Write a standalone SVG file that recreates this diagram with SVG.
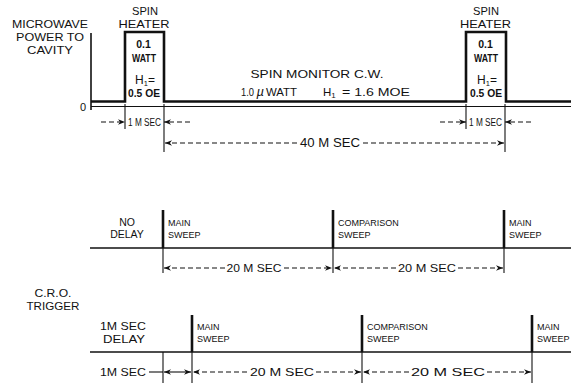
<svg xmlns="http://www.w3.org/2000/svg" width="571" height="385" viewBox="0 0 571 385">
<style>
.t{font-family:"Liberation Sans",Arial,sans-serif;fill:#111}
.c{text-anchor:middle}
.dim{stroke:#111;stroke-width:1.1;stroke-dasharray:5 3;fill:none;marker-end:url(#ah)}
.sol{stroke:#111;stroke-width:1.1;fill:none;marker-end:url(#ah)}
.tick{stroke:#111;stroke-width:1.1}
.bar{stroke:#111;stroke-width:2.6}
.base{stroke:#111;stroke-width:1.6}
.wave{stroke:#111;stroke-width:2.6;fill:none}
</style>
<defs>
<marker id="ah" viewBox="0 0 10 8" refX="10" refY="4" markerWidth="7" markerHeight="5.6" markerUnits="userSpaceOnUse" orient="auto"><path d="M0,0 L10,4 L0,8 L3,4 z" fill="#111"/></marker>
</defs>
<rect width="571" height="385" fill="#fff"/>

<!-- top section -->
<g id="axis">
<line x1="91" y1="33" x2="91" y2="110" class="base"/>
<line x1="91" y1="106.5" x2="571" y2="106.5" stroke="#111" stroke-width="1"/>
<text class="t c" x="83" y="111" font-size="11">0</text>
</g>
<g id="label-microwave" class="t c" font-size="11">
<text x="50" y="28" textLength="76" lengthAdjust="spacingAndGlyphs">MICROWAVE</text>
<text x="50" y="41" textLength="68" lengthAdjust="spacingAndGlyphs">POWER TO</text>
<text x="50" y="54" textLength="46" lengthAdjust="spacingAndGlyphs">CAVITY</text>
</g>
<g id="waveform">
<polyline class="wave" points="91,101.5 125,101.5 125,32 164,32 164,101.5 466,101.5 466,32 506,32 506,101.5 571,101.5"/>
</g>
<g id="pulse1" class="t c">
<text x="145" y="15" font-size="11" textLength="26" lengthAdjust="spacingAndGlyphs">SPIN</text>
<text x="144" y="28" font-size="11" textLength="51" lengthAdjust="spacingAndGlyphs">HEATER</text>
<text x="143.5" y="48" font-size="10.5" font-weight="bold">0.1</text>
<text x="144" y="62" font-size="10.5" font-weight="bold" textLength="24" lengthAdjust="spacingAndGlyphs">WATT</text>
<text x="145" y="84" font-size="12">H<tspan font-size="7.5" dy="2">1</tspan><tspan dy="-2">=</tspan></text>
<text x="144" y="97" font-size="10.5" font-weight="bold" textLength="32" lengthAdjust="spacingAndGlyphs">0.5 OE</text>
</g>
<g id="pulse2" class="t c">
<text x="486" y="15" font-size="11" textLength="26" lengthAdjust="spacingAndGlyphs">SPIN</text>
<text x="485.5" y="28" font-size="11" textLength="51" lengthAdjust="spacingAndGlyphs">HEATER</text>
<text x="485.5" y="48" font-size="10.5" font-weight="bold">0.1</text>
<text x="486" y="62" font-size="10.5" font-weight="bold" textLength="24" lengthAdjust="spacingAndGlyphs">WATT</text>
<text x="487" y="84" font-size="12">H<tspan font-size="7.5" dy="2">1</tspan><tspan dy="-2">=</tspan></text>
<text x="486" y="97" font-size="10.5" font-weight="bold" textLength="32" lengthAdjust="spacingAndGlyphs">0.5 OE</text>
</g>
<g id="monitor" class="t" font-size="11.5">
<text x="317" y="78" class="c" textLength="133" lengthAdjust="spacingAndGlyphs">SPIN MONITOR C.W.</text>
<text x="241" y="96" textLength="13" lengthAdjust="spacingAndGlyphs">1.0</text>
<text x="256.5" y="96" font-style="italic" font-size="13">µ</text>
<text x="266" y="96" textLength="31" lengthAdjust="spacingAndGlyphs">WATT</text>
<text x="323" y="96">H<tspan font-size="8" dy="2">1</tspan></text>
<text x="342" y="96" textLength="68" lengthAdjust="spacingAndGlyphs">= 1.6 MOE</text>
</g>
<g id="top-ticks">
<line x1="125" y1="104" x2="125" y2="129" class="tick"/>
<line x1="164" y1="104" x2="164" y2="152" class="tick"/>
<line x1="466" y1="104" x2="466" y2="129" class="tick"/>
<line x1="505" y1="104" x2="505" y2="152" class="tick"/>
</g>
<g id="top-labels" class="t c" font-size="10">
<text x="144.5" y="126" textLength="33" lengthAdjust="spacingAndGlyphs">1 M SEC</text>
<text x="485.5" y="126" textLength="33" lengthAdjust="spacingAndGlyphs">1 M SEC</text>
<text x="330" y="147" font-size="12" textLength="60" lengthAdjust="spacingAndGlyphs">40 M SEC</text>
</g>

<!-- middle section -->
<g id="no-delay">
<line x1="90" y1="248" x2="571" y2="248" class="base"/>
<g class="t c" font-size="10.5"><text x="127" y="226">NO</text><text x="127" y="238">DELAY</text></g>
</g>
<g id="mid-main1">
<line x1="163" y1="210" x2="163" y2="248" class="bar"/><line x1="163" y1="248" x2="163" y2="273" class="tick"/>
<g class="t" font-size="9"><text x="168" y="226">MAIN</text><text x="168" y="238">SWEEP</text></g>
</g>
<g id="mid-comp">
<line x1="333" y1="210" x2="333" y2="248" class="bar"/><line x1="333" y1="248" x2="333" y2="273" class="tick"/>
<g class="t" font-size="9"><text x="338" y="226">COMPARISON</text><text x="338" y="238">SWEEP</text></g>
</g>
<g id="mid-main2">
<line x1="504" y1="210" x2="504" y2="248" class="bar"/><line x1="504" y1="248" x2="504" y2="273" class="tick"/>
<g class="t" font-size="9"><text x="509" y="226">MAIN</text><text x="509" y="238">SWEEP</text></g>
</g>
<g id="mid-labels" class="t c" font-size="11">
<text x="254" y="272" textLength="55" lengthAdjust="spacingAndGlyphs">20 M SEC</text>
<text x="427" y="272" textLength="58" lengthAdjust="spacingAndGlyphs">20 M SEC</text>
</g>

<!-- bottom section -->
<g id="cro" class="t c" font-size="11">
<text x="53" y="297" textLength="37" lengthAdjust="spacingAndGlyphs">C.R.O.</text>
<text x="53" y="310" textLength="53" lengthAdjust="spacingAndGlyphs">TRIGGER</text>
</g>
<g id="delay-1ms">
<line x1="90" y1="352" x2="571" y2="352" class="base"/>
<line x1="163" y1="352" x2="163" y2="383" class="tick"/>
<g class="t c" font-size="11"><text x="123" y="330" textLength="46" lengthAdjust="spacingAndGlyphs">1M SEC</text><text x="124" y="343" textLength="42" lengthAdjust="spacingAndGlyphs">DELAY</text></g>
<text class="t c" x="123" y="376" font-size="11" textLength="46" lengthAdjust="spacingAndGlyphs">1M SEC</text>
</g>
<g id="bot-main1">
<line x1="192" y1="315" x2="192" y2="352" class="bar"/><line x1="192" y1="352" x2="192" y2="383" class="tick"/>
<g class="t" font-size="9"><text x="197" y="330">MAIN</text><text x="197" y="342">SWEEP</text></g>
</g>
<g id="bot-comp">
<line x1="362" y1="315" x2="362" y2="352" class="bar"/><line x1="362" y1="352" x2="362" y2="383" class="tick"/>
<g class="t" font-size="9"><text x="367" y="330">COMPARISON</text><text x="367" y="342">SWEEP</text></g>
</g>
<g id="bot-main2">
<line x1="532" y1="315" x2="532" y2="352" class="bar"/><line x1="532" y1="352" x2="532" y2="383" class="tick"/>
<g class="t" font-size="9"><text x="537" y="330">MAIN</text><text x="537" y="342">SWEEP</text></g>
</g>
<g id="bot-labels" class="t c" font-size="11">
<text x="282" y="376" textLength="64" lengthAdjust="spacingAndGlyphs">20 M SEC</text>
<text x="448" y="376" textLength="74" lengthAdjust="spacingAndGlyphs">20 M SEC</text>
</g>

<g id="connectors">
<line x1="101" y1="122" x2="125" y2="122" class="dim"/>
<line x1="190" y1="122" x2="164" y2="122" class="dim"/>
<line x1="440" y1="122" x2="466" y2="122" class="dim"/>
<line x1="531" y1="122" x2="505" y2="122" class="dim"/>
<line x1="297" y1="143" x2="165" y2="143" class="dim"/>
<line x1="363" y1="143" x2="504" y2="143" class="dim"/>
<line x1="225" y1="268" x2="164" y2="268" class="dim"/>
<line x1="284" y1="268" x2="332" y2="268" class="dim"/>
<line x1="396" y1="268" x2="334" y2="268" class="dim"/>
<line x1="458" y1="268" x2="503" y2="268" class="dim"/>
<line x1="149" y1="372" x2="163" y2="372" stroke="#111" stroke-width="1.1"/>
<line x1="178" y1="372" x2="164" y2="372" class="sol"/>
<line x1="178" y1="372" x2="191" y2="372" class="sol"/>
<line x1="247" y1="372" x2="193" y2="372" class="dim"/>
<line x1="316" y1="372" x2="361" y2="372" class="dim"/>
<line x1="409" y1="372" x2="363" y2="372" class="dim"/>
<line x1="487" y1="372" x2="531" y2="372" class="dim"/>
</g>
</svg>
